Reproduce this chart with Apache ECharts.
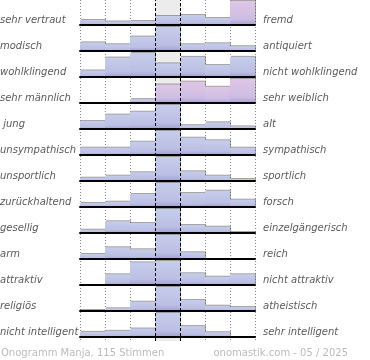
<!DOCTYPE html>
<html><head><meta charset="utf-8">
<script src="https://cdn.jsdelivr.net/npm/echarts@6/dist/echarts.min.js"></script>
<style>html,body{margin:0;padding:0;background:#fff}#c{width:370px;height:360px}</style>
</head><body><div id="c"></div>
<script>
// Scale positions 1..7 between the two poles
const categories = ['1', '2', '3', '4', '5', '6', '7'];
const leftLabels = ['sehr vertraut', 'modisch', 'wohlklingend', 'sehr männlich', ' jung', 'unsympathisch', 'unsportlich', 'zurückhaltend', 'gesellig', 'arm', 'attraktiv', 'religiös', 'nicht intelligent'];
const rightLabels = ['fremd', 'antiquiert', 'nicht wohlklingend', 'sehr weiblich', 'alt', 'sympathisch', 'sportlich', 'forsch', 'einzelgängerisch', 'reich', 'nicht attraktiv', 'atheistisch', 'sehr intelligent'];
// relative answer shares per row
const vertrautFremd = [5, 3.5, 4, 9, 10, 7, 24];
const modischAntiquiert = [9, 7, 15, 25, 7, 8, 5];
const wohlklingend = [6.7, 20, 24.7, 14, 20.7, 12.3, 20.7];
const maennlichWeiblich = [0, 0, 4, 19, 22, 16.7, 24.7];
const jungAlt = [8.3, 15, 18, 25, 4, 7, 2.7];
const sympathisch = [7.3, 7.3, 13.3, 24, 17.3, 14.7, 7.3];
const sportlich = [3.3, 5.3, 8.7, 24, 9.7, 5.3, 2];
const forsch = [4, 5.3, 13, 24, 14, 16.3, 7.3];
const gesellig = [3.3, 11.7, 10, 24, 8, 6.3, 1];
const armReich = [5, 11.7, 9.7, 24, 6.7, 0, 0];
const attraktiv = [0, 10.7, 22.7, 24, 11.7, 8.3, 10.7];
const religioes = [1, 2.7, 9.3, 24, 11, 5.3, 4];
const intelligent = [5, 6, 8.3, 23.5, 10.7, 4.7, 0];
const footerLeft = 'Onogramm Manja, 115 Stimmen';
const footerRight = 'onomastik.com - 05 / 2025';

const rows = [vertrautFremd, modischAntiquiert, wohlklingend, maennlichWeiblich, jungAlt, sympathisch, sportlich, forsch, gesellig, armReich, attraktiv, religioes, intelligent];
// style: which bars are drawn in the pink tone
const pinkCols = {0: [6], 3: [3, 4, 5, 6]};

const ROW_H = 26, BAR_H = 24, LEFT = 80, WIDTH = 175;
const blue = new echarts.graphic.LinearGradient(0, 0, 0, 1, [{offset: 0, color: '#c6cdea'}, {offset: 0.75, color: '#bbbfe4'}, {offset: 1, color: '#a49ed0'}]);
const pink = new echarts.graphic.LinearGradient(0, 0, 0, 1, [{offset: 0, color: '#dfc6e6'}, {offset: 0.75, color: '#cdbde3'}, {offset: 1, color: '#a9a0d3'}]);

const grid = [], xAxis = [], yAxis = [], series = [], graphic = [];
// background grid
grid.push({left: LEFT, width: WIDTH, top: 0, height: 341});
xAxis.push({gridIndex: 0, type: 'value', min: 0, max: 7, interval: 1, axisLine: {show: false}, axisTick: {show: false}, axisLabel: {show: false},
  splitLine: {show: true, lineStyle: {color: '#888', type: [1, 2], width: 1}}});
yAxis.push({gridIndex: 0, type: 'value', min: 0, max: 1, show: false, splitLine: {show: false}});
series.push({type: 'line', xAxisIndex: 0, yAxisIndex: 0, data: [], z: 0, silent: true,
  markArea: {silent: true, itemStyle: {color: '#ececec'}, data: [[{xAxis: 3}, {xAxis: 4}]]}});
series.push({type: 'line', xAxisIndex: 0, yAxisIndex: 0, data: [], z: 10, silent: true,
  markLine: {silent: true, symbol: 'none', label: {show: false}, lineStyle: {color: '#000', type: [3, 2], width: 1}, data: [{xAxis: 3}, {xAxis: 4}]}});

rows.forEach((vals, i) => {
  const gi = i + 1;
  grid.push({left: LEFT, width: WIDTH, top: 1 + ROW_H * i, height: BAR_H});
  xAxis.push({gridIndex: gi, type: 'category', data: categories, z: 6,
    axisLine: {show: true, lineStyle: {color: '#000', width: 2}}, axisTick: {show: false}, axisLabel: {show: false}, splitLine: {show: false}});
  yAxis.push({gridIndex: gi, type: 'value', min: 0, max: Math.max(...vals), show: false, splitLine: {show: false}});
  const pc = pinkCols[i] || [];
  series.push({type: 'bar', xAxisIndex: gi, yAxisIndex: gi, barWidth: 25, barCategoryGap: '0%', z: 3, silent: true,
    data: vals.map((v, j) => ({value: v, itemStyle: {color: pc.includes(j) ? pink : blue}})),
    itemStyle: {shadowColor: 'rgba(90,90,90,0.55)', shadowOffsetX: 1, shadowOffsetY: -1, shadowBlur: 0}});
  const base = 25 + ROW_H * i;
  graphic.push({type: 'text', left: 0, top: base - 10, style: {text: leftLabels[i], font: 'italic 10px "DejaVu Sans"', fill: '#5a5a5a'}});
  graphic.push({type: 'text', left: 263, top: base - 10, style: {text: rightLabels[i], font: 'italic 10px "DejaVu Sans"', fill: '#5a5a5a'}});
});
graphic.push({type: 'text', left: 1, top: 348, style: {text: footerLeft, font: '10px "DejaVu Sans"', fill: '#bbb'}});
graphic.push({type: 'text', right: 22, top: 348, style: {text: footerRight, font: '10px "DejaVu Sans"', fill: '#bbb'}});

const chart = echarts.init(document.getElementById('c'), null, {renderer: 'canvas'});
chart.setOption({animation: false, grid, xAxis, yAxis, series, graphic});
</script></body></html>
